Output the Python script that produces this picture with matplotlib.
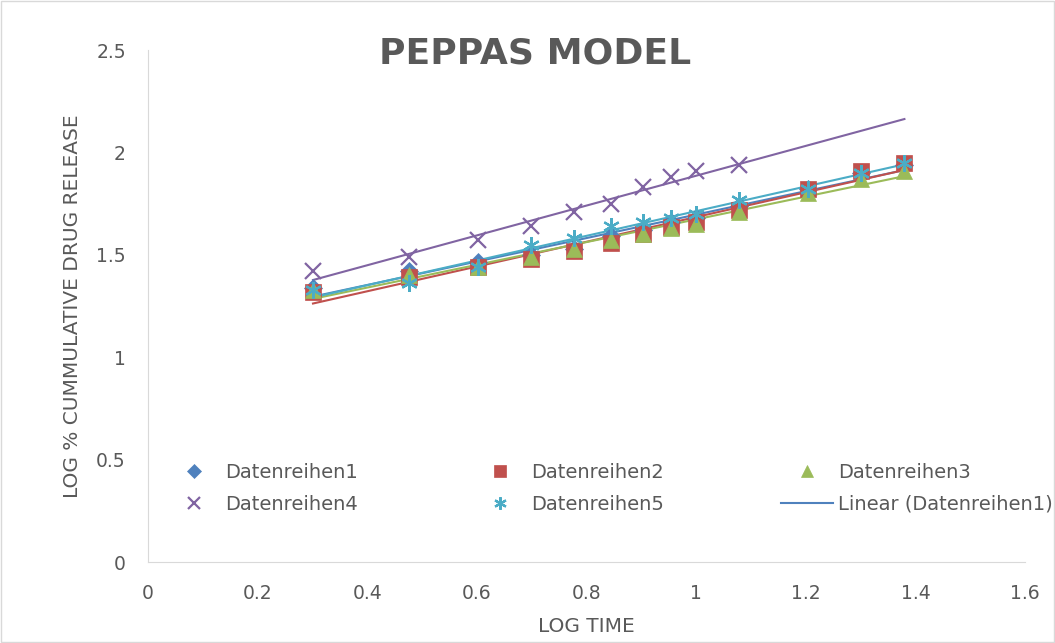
import numpy as np
import matplotlib
matplotlib.use("Agg")
import matplotlib.pyplot as plt

# === Data ===
log_time = [0.301, 0.477, 0.602, 0.699, 0.778, 0.845, 0.903, 0.954, 1.0, 1.079, 1.204, 1.301, 1.380]
series1 = [1.34, 1.42, 1.465, 1.50, 1.53, 1.59, 1.62, 1.66, 1.68, 1.74, 1.82, 1.90, 1.94]
series2 = [1.32, 1.39, 1.44, 1.48, 1.52, 1.56, 1.60, 1.635, 1.66, 1.72, 1.82, 1.91, 1.95]
series3 = [1.33, 1.40, 1.44, 1.49, 1.53, 1.57, 1.60, 1.63, 1.65, 1.71, 1.80, 1.87, 1.91]
log_time4 = [0.301, 0.477, 0.602, 0.699, 0.778, 0.845, 0.903, 0.954, 1.0, 1.079]
series4 = [1.42, 1.49, 1.57, 1.64, 1.71, 1.75, 1.83, 1.88, 1.91, 1.94]
series5 = [1.33, 1.36, 1.44, 1.55, 1.58, 1.64, 1.66, 1.68, 1.70, 1.77, 1.82, 1.90, 1.95]

names = ["Datenreihen1", "Datenreihen2", "Datenreihen3", "Datenreihen4", "Datenreihen5"]
colors = ["#4F81BD", "#C0504D", "#9BBB59", "#8064A2", "#4BACC6"]
markers = ["D", "s", "^", "x", (6, 2, 0)]
sizes = [9, 12, 12, 12, 12]

fig = plt.figure(figsize=(10.55, 6.43), dpi=100)
ax = fig.add_axes([148 / 1055, 1 - 562 / 643, (1025 - 148) / 1055, (562 - 50) / 643])

all_x = [log_time, log_time, log_time, log_time4, log_time]
all_y = [series1, series2, series3, series4, series5]

# === Trendlines ===
x_line = np.array([log_time[0], log_time[-1]])
trend_handle = None
for i, (xs, ys, c) in enumerate(zip(all_x, all_y, colors)):
    k, d = np.polyfit(xs, ys, 1)
    h, = ax.plot(x_line, k * x_line + d, color=c, lw=1.5, zorder=2)
    if i == 0:
        trend_handle = h

# === Scatter series ===
handles = []
for xs, ys, c, m, s, n in zip(all_x, all_y, colors, markers, sizes, names):
    thin = not (m == "x" or isinstance(m, tuple))
    h, = ax.plot(xs, ys, linestyle="none", marker=m, markersize=s, color=c,
                 markeredgewidth=0.5 if thin else 1.6, label=n, zorder=3)
    handles.append(h)

ax.set_xlim(0, 1.6)
ax.set_ylim(0, 2.5)
ax.set_xticks(np.arange(0, 1.61, 0.2))
ax.set_xticklabels(["0", "0.2", "0.4", "0.6", "0.8", "1", "1.2", "1.4", "1.6"])
ax.set_yticks([0, 0.5, 1, 1.5, 2, 2.5])
ax.set_yticklabels(["0", "0.5", "1", "1.5", "2", "2.5"])
ax.tick_params(length=0, labelsize=13.5, colors="#595959")
ax.tick_params(axis="x", pad=16)
ax.tick_params(axis="y", pad=16)

for sp in ["top", "right"]:
    ax.spines[sp].set_visible(False)
for sp in ["left", "bottom"]:
    ax.spines[sp].set_color("#D9D9D9")

ax.set_xlabel("LOG TIME", fontsize=14.5, color="#595959")
ax.set_ylabel("LOG % CUMMULATIVE DRUG RELEASE", fontsize=14.5, color="#595959")
ax.xaxis.set_label_coords(0.5, -(627 - 562) / 512, transform=ax.transAxes)
ax.yaxis.set_label_coords((73 - 148) / 877, 0.5, transform=ax.transAxes)
ax.xaxis.label.set_va("center")
ax.yaxis.label.set_va("center")

fig.text(535 / 1055, 1 - 53 / 643, "PEPPAS MODEL", fontsize=26, fontweight="bold",
         color="#595959", ha="center", va="center")

# === Legend (3 columns, 2 rows) ===
leg_handles = [handles[0], handles[3], handles[1], handles[4], handles[2], trend_handle]
leg_labels = [names[0], names[3], names[1], names[4], names[2], "Linear (Datenreihen1)"]
leg = fig.legend(leg_handles, leg_labels, ncol=3, loc="upper left",
                 bbox_to_anchor=(168 / 1055, 1 - 463 / 643), frameon=False, fontsize=14,
                 borderpad=0, borderaxespad=0, columnspacing=6.0, handlelength=2.67,
                 handletextpad=0.26, labelspacing=0.65, markerscale=0.75)
for t in leg.get_texts():
    t.set_color("#595959")

# chart border
fig.patches.append(plt.Rectangle((0.001, 0.001), 0.998, 0.998, transform=fig.transFigure,
                                 fill=False, edgecolor="#D9D9D9", lw=1))

fig.savefig("out.png", dpi=100)
